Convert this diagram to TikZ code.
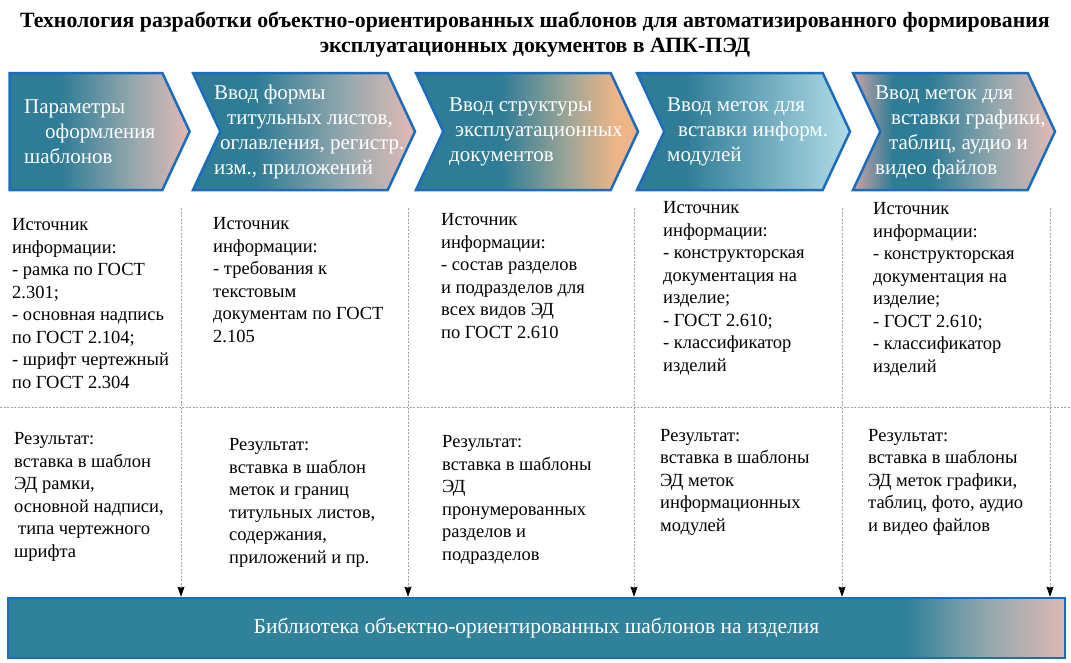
\documentclass[tikz,border=0pt]{standalone}
\usepackage{fontspec}
\setmainfont{Liberation Serif}
\usetikzlibrary{arrows.meta,positioning,shapes.symbols}
\definecolor{tealmain}{HTML}{2E7C96}
\definecolor{teallib}{HTML}{2F8299}
\definecolor{steelgray}{HTML}{98A9AE}
\definecolor{dustrose}{HTML}{DDB8B4}
\definecolor{mauve}{HTML}{C9A4A3}
\definecolor{sage}{HTML}{9CA596}
\definecolor{apricot}{HTML}{EDB588}
\definecolor{skyblue}{HTML}{B2DCE7}
\definecolor{edgeblue}{HTML}{1C6CBE}
\definecolor{bk50}{HTML}{A2A2A2}
% the path box is mapped onto 25bp..75bp of the shading
\pgfdeclarehorizontalshading{shaderose}{100bp}{color(0bp)=(tealmain); color(39bp)=(tealmain); color(60bp)=(steelgray); color(74bp)=(dustrose); color(100bp)=(dustrose)}
\pgfdeclarehorizontalshading{shadeapricot}{100bp}{color(0bp)=(tealmain); color(44bp)=(tealmain); color(59bp)=(sage); color(70bp)=(apricot); color(100bp)=(apricot)}
\pgfdeclarehorizontalshading{shadesky}{100bp}{color(0bp)=(tealmain); color(36bp)=(tealmain); color(75bp)=(skyblue); color(100bp)=(skyblue)}
\pgfdeclarehorizontalshading{shademauve}{100bp}{color(0bp)=(mauve); color(25bp)=(mauve); color(35bp)=(tealmain); color(44bp)=(tealmain); color(61bp)=(steelgray); color(74bp)=(dustrose); color(100bp)=(dustrose)}
\pgfdeclarehorizontalshading{shadelib}{100bp}{color(0bp)=(teallib); color(67.5bp)=(teallib); color(71.5bp)=(steelgray); color(75bp)=(dustrose); color(100bp)=(dustrose)}
\tikzset{
  stagebox/.style={
    signal, signal to=east, signal pointer angle=130,
    draw=edgeblue, line width=2.5pt, shading=#1,
    minimum height=117pt, inner sep=0pt
  },
  stagebox/.default=shaderose,
  stagetext/.style={
    anchor=west, text=white, align=left, inner sep=0pt,
    font=\fontsize{21}{25}\selectfont
  },
  % anchored at the baseline of the last line
  infotext/.style={
    anchor=base west, align=left, inner sep=0pt,
    font=\fontsize{18.5}{22.5}\selectfont
  },
  sepline/.style={
    draw=bk50, dash pattern=on 2pt off 1.5pt, line width=0.7pt
  },
  droparrow/.style={
    sepline, -{Stealth[length=10pt, width=7pt, inset=1pt, black]}
  },
  libbox/.style={
    rectangle, draw=edgeblue, line width=2.5pt, shading=shadelib,
    minimum width=1057pt, minimum height=60pt,
    text=white, font=\fontsize{21.5}{25}\selectfont
  },
  titletext/.style={
    font=\fontsize{21.8}{25}\selectfont\bfseries, align=center, inner sep=0pt
  },
}
\begin{document}
\begin{tikzpicture}[x=1pt, y=-1pt]
  \useasboundingbox (0,0) rectangle (1071,662);

  % Title
  \node[titletext] (title) at (535,34.5)
    {Технология разработки объектно-ориентированных шаблонов для автоматизированного формирования\\
     эксплуатационных документов в АПК-ПЭД};

  % Stages
  \node[stagebox, minimum width=180pt] (s1) at (86,131.5) {};
  \node[stagebox, signal from=west, minimum width=222pt] (s2) at (304,131.5) {};
  \node[stagebox=shadeapricot, signal from=west, minimum width=222pt] (s3) at (527,131.5) {};
  \node[stagebox=shadesky, signal from=west, minimum width=213pt] (s4) at (743.5,131.5) {};
  \node[stagebox=shademauve, signal from=west, minimum width=202pt] (s5) at (954,131.5) {};

  \node[stagetext] (s1t) at (24,132)
    {Параметры\\ \hspace*{21pt}оформления\\ шаблонов};
  \node[stagetext] (s2t) at (214,132)
    {Ввод формы\\ \hspace*{13pt}титульных листов,\\ \hspace*{6pt}оглавления, регистр.\\ изм., приложений};
  \node[stagetext] (s3t) at (449,132)
    {Ввод структуры\\ \hspace*{6pt}эксплуатационных\\ документов};
  \node[stagetext] (s4t) at (667,132)
    {Ввод меток для\\ \hspace*{11pt}вставки информ.\\ модулей};
  \node[stagetext] (s5t) at (875,132)
    {Ввод меток для\\ \hspace*{16pt}вставки графики,\\ \hspace*{14pt}таблиц, аудио и\\ видео файлов};

  % Library
  \node[libbox] (lib) at (536.5,628)
    {Библиотека объектно-ориентированных шаблонов на изделия};

  % Separators
  \coordinate (hl) at (0,407);
  \coordinate (hr) at (1071,407);
  \draw[sepline] (hl) -- (hr);
  \foreach \x [count=\i] in {181,408,634,842,1050} {
    \coordinate (sep\i) at (\x,208);
    \draw[droparrow] (sep\i) -- (sep\i |- lib.north);
  }

  % Sources
  \node[infotext] (src1) at (12,388)
    {Источник\\ информации:\\ - рамка по ГОСТ\\ 2.301;\\ - основная надпись\\ по ГОСТ 2.104;\\ - шрифт чертежный\\ по ГОСТ 2.304};
  \node[infotext] (src2) at (213,342)
    {Источник\\ информации:\\ - требования к\\ текстовым\\ документам по ГОСТ\\ 2.105};
  \node[infotext] (src3) at (441,338)
    {Источник\\ информации:\\ - состав разделов\\ и подразделов для\\ всех видов ЭД\\ по ГОСТ 2.610};
  \node[infotext] (src4) at (663,371)
    {Источник\\ информации:\\ - конструкторская\\ документация на\\ изделие;\\ - ГОСТ 2.610;\\ - классификатор\\ изделий};
  \node[infotext] (src5) at (873,372)
    {Источник\\ информации:\\ - конструкторская\\ документация на\\ изделие;\\ - ГОСТ 2.610;\\ - классификатор\\ изделий};

  % Results
  \node[infotext] (res1) at (14,557)
    {Результат:\\ вставка в шаблон\\ ЭД рамки,\\ основной надписи,\\ \hspace*{4pt}типа чертежного\\ шрифта};
  \node[infotext] (res2) at (229,563)
    {Результат:\\ вставка в шаблон\\ меток и границ\\ титульных листов,\\ содержания,\\ приложений и пр.};
  \node[infotext] (res3) at (442,560)
    {Результат:\\ вставка в шаблоны\\ ЭД\\ пронумерованных\\ разделов и\\ подразделов};
  \node[infotext] (res4) at (660,531)
    {Результат:\\ вставка в шаблоны\\ ЭД меток\\ информационных\\ модулей};
  \node[infotext] (res5) at (868,531)
    {Результат:\\ вставка в шаблоны\\ ЭД меток графики,\\ таблиц, фото, аудио\\ и видео файлов};
\end{tikzpicture}
\end{document}
